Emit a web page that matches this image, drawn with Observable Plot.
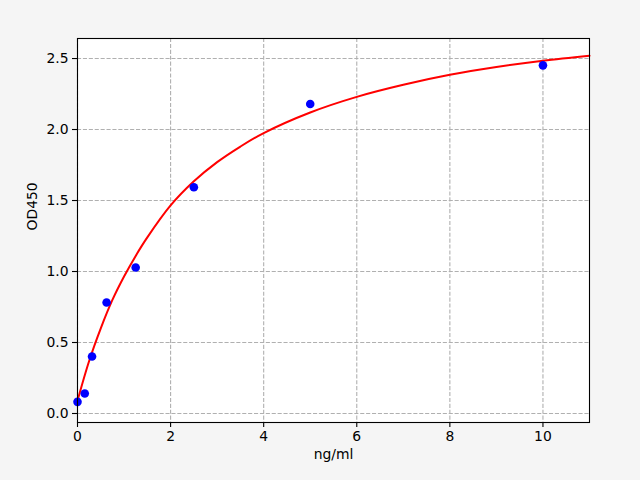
<!DOCTYPE html>
<html>
<head>
<meta charset="utf-8">
<script src="https://cdn.jsdelivr.net/npm/d3@7"></script>
<script src="https://cdn.jsdelivr.net/npm/@observablehq/plot@0.6"></script>
<style>
  html, body { margin: 0; padding: 0; background: #f5f5f5; }
  #chart { width: 640px; height: 480px; }
</style>
</head>
<body>
<div id="chart"></div>
<script>
// Standard points (concentration ng/ml, OD450)
const conc = [0, 0.156, 0.3125, 0.625, 1.25, 2.5, 5, 10];
const od = [0.082, 0.141, 0.401, 0.782, 1.028, 1.593, 2.180, 2.452];

// Fitted curve
const curveX = [0, 0.25, 0.5, 0.75, 1, 1.25, 1.5, 2, 2.5, 3, 3.5, 4, 5, 6, 7, 8, 9, 10, 11];
const curveY = [0.09, 0.37, 0.60, 0.80, 0.965, 1.11, 1.24, 1.465, 1.635, 1.77, 1.88, 1.975, 2.12, 2.23, 2.315, 2.385, 2.44, 2.485, 2.52];

const xTicks = [0, 2, 4, 6, 8, 10];
const yTicks = [0, 0.5, 1.0, 1.5, 2.0, 2.5];

const points = conc.map((x, i) => ({x, y: od[i]}));
const curve = curveX.map((x, i) => ({x, y: curveY[i]}));

const font = "DejaVu Sans, sans-serif";

const chart = Plot.plot({
  width: 640,
  height: 480,
  marginLeft: 77,
  marginRight: 51,
  marginTop: 38,
  marginBottom: 58,
  style: {background: "#f5f5f5", fontFamily: font, fontSize: "13.9px", color: "black"},
  x: {domain: [0, 11]},
  y: {domain: [-0.0634, 2.641]},
  marks: [
    Plot.frame({fill: "white", stroke: null}),
    Plot.gridX(xTicks, {stroke: "#b0b0b0", strokeOpacity: 1, strokeWidth: 1.1, strokeDasharray: "4.1,1.8"}),
    Plot.gridY(yTicks, {stroke: "#b0b0b0", strokeOpacity: 1, strokeWidth: 1.1, strokeDasharray: "4.1,1.8"}),
    Plot.line(curve, {x: "x", y: "y", stroke: "#ff0000", strokeWidth: 2, curve: "catmull-rom"}),
    Plot.dot(points, {x: "x", y: "y", r: 4.3, fill: "#0000ff", stroke: null}),
    Plot.frame({stroke: "black", strokeWidth: 1.1}),
    Plot.axisX(xTicks, {tickSize: 5, tickPadding: 4, tickFormat: d3.format("d"), label: null, fontSize: 13.9, strokeWidth: 1.1}),
    Plot.axisY(yTicks, {tickSize: 5, tickPadding: 4, tickFormat: d3.format(".1f"), label: null, fontSize: 13.9, strokeWidth: 1.1}),
    Plot.text(["ng/ml"], {frameAnchor: "bottom", dy: 36, text: d => d, fontSize: 13.9, fill: "black"}),
    Plot.text(["OD450"], {frameAnchor: "left", dx: -45, rotate: -90, text: d => d, fontSize: 13.9, fill: "black"})
  ]
});
document.getElementById("chart").appendChild(chart);
</script>
</body>
</html>
